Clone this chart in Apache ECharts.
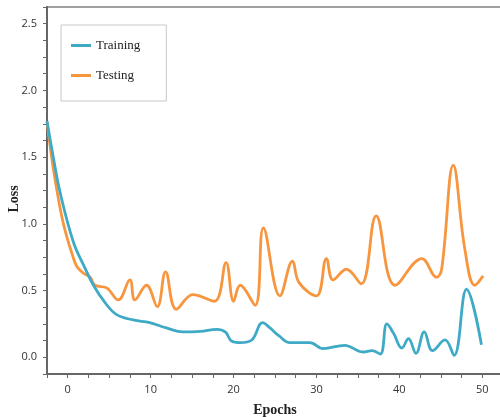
<!DOCTYPE html>
<html>
<head>
<meta charset="utf-8">
<script src="https://cdn.jsdelivr.net/npm/echarts@6/dist/echarts.min.js"></script>
<style>
  html, body { margin: 0; padding: 0; background: #fff; }
  #chart { width: 500px; height: 417px; }
</style>
</head>
<body>
<div id="chart"></div>
<script>
// 训练 / 测试 loss 曲线数据
var trainEpochs = [-2.5, -1.8, -0.9, 0.7, 2, 3.1, 4.5, 5.9, 7.9, 9.9, 11.9, 13.9, 16, 18, 19, 19.8, 20.8, 22.2, 23.5, 24.4, 25.5, 26.8, 29.2, 30.8, 33.4, 35.6, 36.7, 37.7, 38.5, 39.3, 40.3, 41.1, 42, 43, 44, 45.5, 46.6, 48.1, 49.9];
var trainLoss   = [1.77, 1.52, 1.23, 0.86, 0.68, 0.54, 0.41, 0.32, 0.28, 0.26, 0.22, 0.19, 0.195, 0.21, 0.19, 0.12, 0.11, 0.13, 0.26, 0.22, 0.16, 0.11, 0.11, 0.065, 0.09, 0.04, 0.05, 0.025, 0.25, 0.18, 0.07, 0.14, 0.03, 0.19, 0.05, 0.13, 0.015, 0.51, 0.095];

var testEpochs = [-2.5, -1.9, -1.3, -0.7, -0.1, 0.5, 1.1, 1.9, 2.7, 3.3, 4.7, 6.1, 7.5, 8.1, 9.5, 10.8, 11.8, 13.1, 15.1, 17.7, 19.1, 20, 20.8, 22.6, 23.6, 25.6, 27.1, 27.9, 30, 31.2, 32, 33.6, 35.4, 37.2, 39.5, 42.7, 44.5, 45.1, 46.5, 47.9, 49.1, 50.1];
var testLoss   = [1.77, 1.48, 1.25, 1.05, 0.9, 0.78, 0.68, 0.63, 0.6, 0.54, 0.52, 0.43, 0.58, 0.43, 0.54, 0.38, 0.64, 0.36, 0.47, 0.42, 0.71, 0.42, 0.54, 0.39, 0.97, 0.46, 0.72, 0.56, 0.46, 0.74, 0.58, 0.66, 0.55, 1.06, 0.54, 0.74, 0.6, 0.66, 1.44, 0.81, 0.54, 0.61];

var seriesNames = ['Training', 'Testing'];

function pairs(xs, ys) {
  var out = [];
  for (var i = 0; i < xs.length; i++) out.push([xs[i], ys[i]]);
  return out;
}

var chart = echarts.init(document.getElementById('chart'));

var option = {
  animation: false,
  grid: {
    left: 47, right: -3, top: 7, bottom: 43,
    outerBoundsMode: 'none',
    show: true,
    borderColor: '#a0a0a0',
    borderWidth: 2
  },
  legend: {
    data: seriesNames,
    orient: 'vertical',
    left: 61, top: 25,
    padding: [14, 26, 19, 10],
    itemGap: 17,
    icon: 'rect',
    itemWidth: 20,
    itemHeight: 3,
    borderColor: '#c8c8c8',
    borderWidth: 1,
    backgroundColor: '#fff',
    textStyle: { fontFamily: 'Liberation Serif', fontSize: 13, color: '#222' }
  },
  xAxis: {
    type: 'value',
    min: -2.5, max: 52.5, interval: 2.5,
    name: 'Epochs',
    nameLocation: 'middle',
    nameGap: 29,
    nameMoveOverlap: false,
    nameTextStyle: { fontFamily: 'Liberation Serif', fontWeight: 'bold', fontSize: 14, color: '#222' },
    axisLine: { onZero: false, lineStyle: { color: '#666', width: 2 } },
    axisTick: { length: 4, lineStyle: { color: '#666' } },
    axisLabel: {
      margin: 10,
      fontFamily: 'Open Sans', fontSize: 11, color: '#333',
      formatter: function (v) { return Math.abs(v % 10) < 1e-6 ? String(v) : ''; }
    },
    splitLine: { show: false }
  },
  yAxis: {
    type: 'value',
    min: -0.125, max: 2.625, interval: 0.125,
    name: 'Loss',
    nameLocation: 'middle',
    nameGap: 26,
    nameMoveOverlap: false,
    nameTextStyle: { fontFamily: 'Liberation Serif', fontWeight: 'bold', fontSize: 14, color: '#222', padding: [0, 17, 0, 0] },
    axisLine: { show: true, onZero: false, lineStyle: { color: '#666', width: 2 } },
    axisTick: { show: true, length: 4, lineStyle: { color: '#666' } },
    axisLabel: {
      margin: 10,
      fontFamily: 'Open Sans', fontSize: 11, color: '#333',
      formatter: function (v) {
        var k = v * 2;
        return Math.abs(k - Math.round(k)) < 1e-6 ? v.toFixed(1) : '';
      }
    },
    splitLine: { show: false }
  },
  series: [
    {
      name: seriesNames[0],
      type: 'line',
      smooth: 0.4,
      showSymbol: false,
      data: pairs(trainEpochs, trainLoss),
      itemStyle: { color: '#3eaac6' },
      lineStyle: { color: '#3eaac6', width: 2.8 },
      z: 3
    },
    {
      name: seriesNames[1],
      type: 'line',
      smooth: 0.4,
      showSymbol: false,
      data: pairs(testEpochs, testLoss),
      itemStyle: { color: '#f7963f' },
      lineStyle: { color: '#f7963f', width: 2.8 },
      z: 2
    }
  ]
};

chart.setOption(option);
</script>
</body>
</html>
